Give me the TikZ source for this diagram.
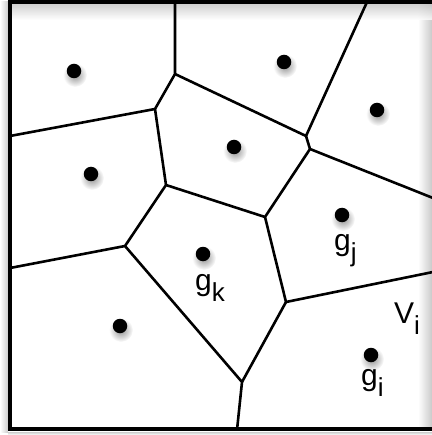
\documentclass[tikz,border=0pt]{standalone}
\usepackage{fontspec}
\setmainfont{Liberation Sans}
\newcommand{\lowidx}[1]{\raisebox{-11pt}{\fontsize{26}{26}\selectfont #1}}
\begin{document}
\begin{tikzpicture}[
    x=1pt, y=-1pt,
    edge/.style={line width=2.6pt, line join=round},
    frame/.style={line width=4.5pt},
    site/.style={circle, fill=black, inner sep=0pt, minimum size=14.5pt},
    label/.style={font=\fontsize{30}{30}\selectfont, inner sep=0pt, anchor=base west}
  ]
  \useasboundingbox (0,0) rectangle (431,435);

  % Frame shadows
  \shade[left color=white, right color=gray!45] (418,4) rectangle (433,430);
  \shade[top color=gray!45, bottom color=white, fill opacity=0.8] (10,4) rectangle (433,20);
  \shade[left color=white, right color=gray!40] (0,2) rectangle (8,432);
  \shade[top color=gray!40, bottom color=white] (8,432) rectangle (433,435);

  % Site shadows
  \foreach \x/\y in {74/71, 91/174, 284/62, 377/110, 234/147,
                     342/215, 203/254, 120/326, 371/355}
    \shade[inner color=gray!85, outer color=white] (\x+1,\y+4) circle (12pt);

  % Voronoi vertices
  \coordinate (a) at (175,74);
  \coordinate (b) at (155,109);
  \coordinate (c) at (306,136);
  \coordinate (d) at (310,149);
  \coordinate (e) at (265,217);
  \coordinate (f) at (166,185);
  \coordinate (g) at (125,246);
  \coordinate (h) at (242,382);
  \coordinate (k) at (286,302);

  % Ends on the frame
  \coordinate (top1) at (175,2);
  \coordinate (top2) at (367,2);
  \coordinate (left1) at (10,136);
  \coordinate (left2) at (10,268);
  \coordinate (right1) at (433,198);
  \coordinate (right2) at (433,272);
  \coordinate (bot1) at (237,430);

  % Edges
  \draw[edge] (top1) -- (a) -- (b) -- (left1);
  \draw[edge] (a) -- (c) -- (top2);
  \draw[edge] (c) -- (d) -- (right1);
  \draw[edge] (b) -- (f) -- (e) -- (d);
  \draw[edge] (left2) -- (g) -- (f);
  \draw[edge] (g) -- (h) -- (bot1);
  \draw[edge] (e) -- (k) -- (right2);
  \draw[edge] (k) -- (h);

  % Frame
  \draw[frame] (433,2) -- (10,2) -- (10,429) -- (433,429);

  % Sites
  \node[site] (s1) at (74,71) {};
  \node[site] (s2) at (91,174) {};
  \node[site] (s3) at (284,62) {};
  \node[site] (s4) at (377,110) {};
  \node[site] (s5) at (234,147) {};
  \node[site] (gj) at (342,215) {};
  \node[site] (gk) at (203,254) {};
  \node[site] (s8) at (120,326) {};
  \node[site] (gi) at (371,355) {};

  % Labels
  \node[label] (lj) at (334,250) {g\lowidx{j}};
  \node[label] (lk) at (195,290) {g\lowidx{k}};
  \node[label] (li) at (361,385) {g\lowidx{i}};
  \node[label] (lv) at (394,323) {V\lowidx{i}};

\end{tikzpicture}
\end{document}
